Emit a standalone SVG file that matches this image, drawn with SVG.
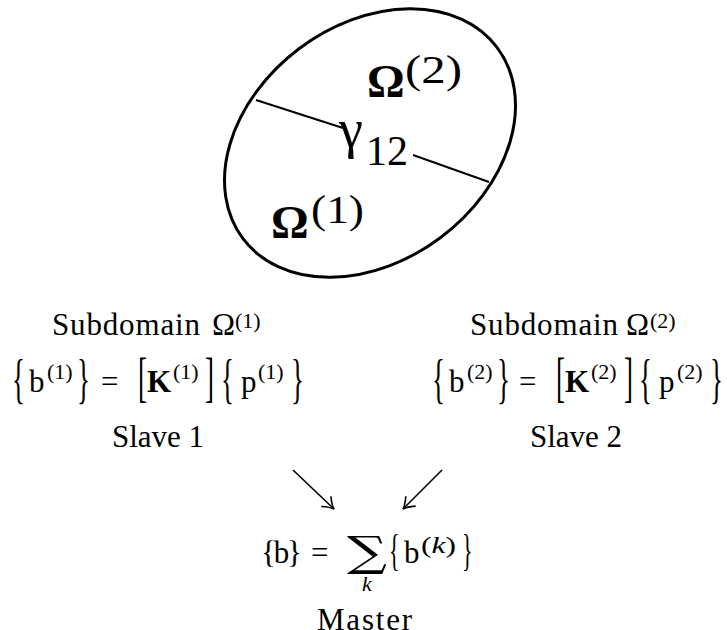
<svg xmlns="http://www.w3.org/2000/svg" width="727" height="630" viewBox="0 0 727 630">
<defs>
<style>
text{font-family:"Liberation Serif","Times New Roman",serif;fill:#000}
.lab{font-size:31px}
.sup{font-size:22px}
.big{font-size:54px}
.mid{font-size:44px}
.bold{font-weight:bold}
.line{stroke:#000;stroke-width:2;fill:none}
.arr{stroke:#000;stroke-width:1.6;fill:none}
</style>
<marker id="ah" viewBox="-12 -8 14 16" markerWidth="14" markerHeight="16" refX="0" refY="0" orient="auto" markerUnits="userSpaceOnUse">
<path d="M-11,-7 Q-4,-1 0,0 Q-4,1 -11,7" fill="none" stroke="#000" stroke-width="1.6"/>
</marker>
</defs>
<g id="domain">
<ellipse cx="370" cy="143" rx="159" ry="118" transform="rotate(-37 370 143)" fill="none" stroke="#000" stroke-width="3"/>
<line class="line" x1="256" y1="100" x2="343" y2="128"/>
<line class="line" x1="413" y1="155" x2="489" y2="182"/>
<text x="367" y="97" style="font-size:47px;font-weight:bold">Ω</text>
<text x="405" y="83" style="font-size:40px" textLength="57" lengthAdjust="spacingAndGlyphs">(2)</text>
<text x="271" y="238" style="font-size:47px;font-weight:bold">Ω</text>
<text x="311" y="223" style="font-size:40px" textLength="53" lengthAdjust="spacingAndGlyphs">(1)</text>
<text x="339" y="147" style="font-size:54px">γ</text>
<text x="366" y="165" style="font-size:42px">12</text>
</g>
<g id="slave1">
<text class="lab" x="52" y="335" textLength="148">Subdomain</text>
<text class="lab" x="212" y="335">Ω</text>
<text class="sup" x="235" y="328">(1)</text>
<text class="big" transform="translate(12,397) scale(0.5,1)">{</text>
<text class="lab" x="29" y="392">b</text>
<text class="sup" x="47" y="379">(1)</text>
<text class="big" transform="translate(77,397) scale(0.5,1)">}</text>
<text class="lab" x="101" y="392">=</text>
<text class="big" transform="translate(138,396) scale(0.5,1)">[</text>
<text class="lab bold" x="147" y="392">K</text>
<text class="sup" x="173" y="379">(1)</text>
<text class="big" transform="translate(205,396) scale(0.5,1)">]</text>
<text class="big" transform="translate(221,397) scale(0.5,1)">{</text>
<text class="lab" x="241" y="392">p</text>
<text class="sup" x="258" y="379">(1)</text>
<text class="big" transform="translate(291,397) scale(0.5,1)">}</text>
<text class="lab" x="112" y="447">Slave 1</text>
</g>
<g id="slave2">
<text class="lab" x="470" y="335" textLength="148">Subdomain</text>
<text class="lab" x="626" y="335">Ω</text>
<text class="sup" x="650" y="328">(2)</text>
<text class="big" transform="translate(432,397) scale(0.5,1)">{</text>
<text class="lab" x="449" y="392">b</text>
<text class="sup" x="467" y="379">(2)</text>
<text class="big" transform="translate(497,397) scale(0.5,1)">}</text>
<text class="lab" x="519" y="392">=</text>
<text class="big" transform="translate(556,396) scale(0.5,1)">[</text>
<text class="lab bold" x="565" y="392">K</text>
<text class="sup" x="591" y="379">(2)</text>
<text class="big" transform="translate(624,396) scale(0.5,1)">]</text>
<text class="big" transform="translate(639,397) scale(0.5,1)">{</text>
<text class="lab" x="659" y="392">p</text>
<text class="sup" x="677" y="379">(2)</text>
<text class="big" transform="translate(710,397) scale(0.5,1)">}</text>
<text class="lab" x="530" y="447">Slave 2</text>
</g>
<g id="master">
<text class="lab" x="261" y="563" textLength="41">{b}</text>
<text class="lab" x="311" y="563">=</text>
<text x="347" y="566" style="font-family:'DejaVu Serif',serif;font-size:42px" textLength="40" lengthAdjust="spacingAndGlyphs">∑</text>
<text class="sup" x="362" y="591" font-style="italic">k</text>
<text class="mid" transform="translate(389,565) scale(0.5,1)">{</text>
<text class="lab" x="404" y="563">b</text>
<text x="421" y="553" style="font-size:23px" textLength="35" lengthAdjust="spacingAndGlyphs">(<tspan font-style="italic">k</tspan>)</text>
<text class="mid" transform="translate(462,565) scale(0.5,1)">}</text>
<text class="lab" x="317" y="630" textLength="95">Master</text>
</g>
<g id="connectors">
<line class="arr" x1="293" y1="470" x2="334" y2="509" marker-end="url(#ah)"/>
<line class="arr" x1="442" y1="470" x2="403" y2="509" marker-end="url(#ah)"/>
</g>
</svg>
